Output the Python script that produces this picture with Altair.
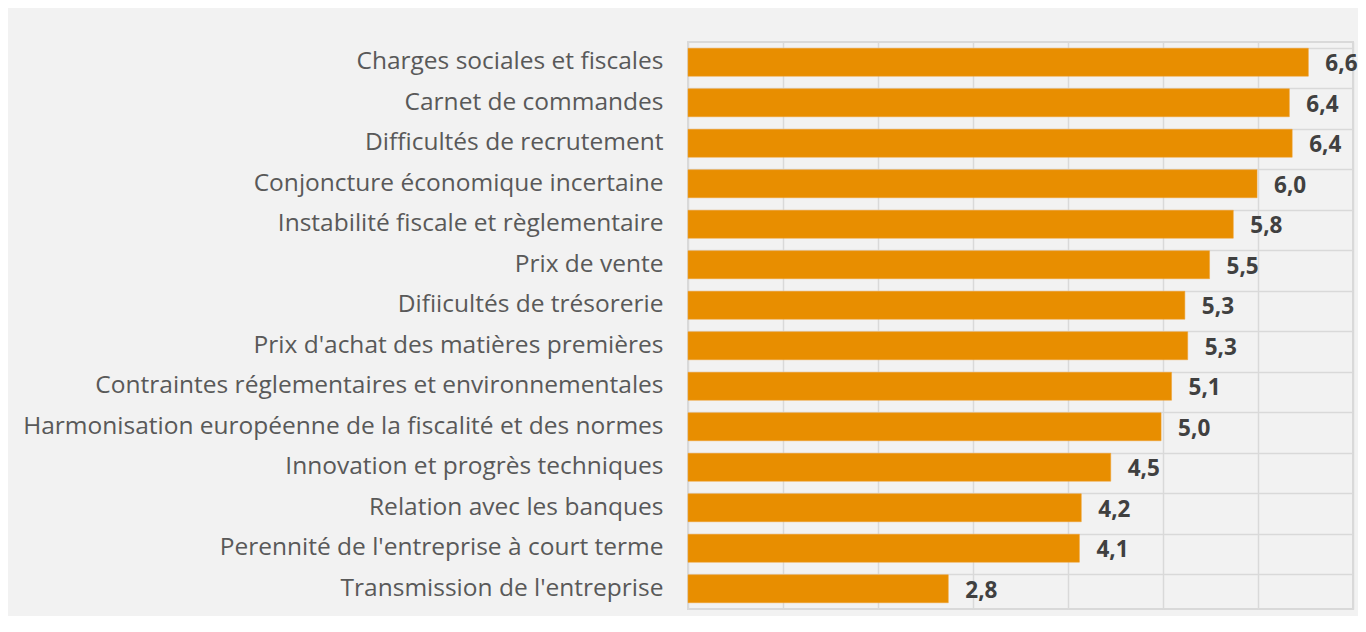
import altair as alt
import pandas as pd

categories = [
    "Charges sociales et fiscales",
    "Carnet de commandes",
    "Difficultés de recrutement",
    "Conjoncture économique incertaine",
    "Instabilité fiscale et règlementaire",
    "Prix de vente",
    "Difiicultés de trésorerie",
    "Prix d'achat des matières premières",
    "Contraintes réglementaires et environnementales",
    "Harmonisation européenne de la fiscalité et des normes",
    "Innovation et progrès techniques",
    "Relation avec les banques",
    "Perennité de l'entreprise à court terme",
    "Transmission de l'entreprise",
]
values = [6.53, 6.33, 6.36, 5.99, 5.74, 5.49, 5.23, 5.26, 5.09, 4.98, 4.45, 4.14, 4.12, 2.74]
labels = ["6,6", "6,4", "6,4", "6,0", "5,8", "5,5", "5,3", "5,3", "5,1", "5,0", "4,5", "4,2", "4,1", "2,8"]
grid_values = [0, 1, 2, 3, 4, 5, 6, 7]

df = pd.DataFrame({"cat": categories, "val": values, "lab": labels})

FONT = "Open Sans"

y = alt.Y(
    "cat:N",
    sort=categories,
    title=None,
    scale=alt.Scale(paddingInner=0.31, paddingOuter=0.155),
    axis=alt.Axis(
        labelFont=FONT,
        labelFontSize=24.5,
        labelColor="#595959",
        labelPadding=25,
        labelLimit=0,
        ticks=False,
        domain=False,
        grid=True,
        gridColor="#d9d9d9",
        gridWidth=1.5,
        bandPosition=0,
    ),
)
x = alt.X(
    "val:Q",
    title=None,
    scale=alt.Scale(domain=[0, 7], nice=False),
    axis=alt.Axis(
        labels=False,
        ticks=False,
        domain=False,
        grid=True,
        gridColor="#d9d9d9",
        gridWidth=1.5,
        values=grid_values,
    ),
)

bars = alt.Chart(df).mark_bar(color="#E88E00", stroke="#F0A030", strokeWidth=0.5).encode(x=x, y=y)
text = alt.Chart(df).mark_text(
    align="left", baseline="middle", dx=17, dy=2,
    font=FONT, fontSize=22.5, fontWeight="bold", color="#404040"
).encode(x=x, y=y, text="lab:N")

chart = (
    (bars + text)
    .properties(
        width=665,
        height=567,
        background="#f2f2f2",
        autosize=alt.AutoSizeParams(type="none"),
        padding={"left": 680, "top": 34, "right": 5, "bottom": 7},
    )
    .configure_view(stroke="#d9d9d9", strokeWidth=2, fill="#f2f2f2")
)

chart.save("out.html", embed_options={"renderer": "svg", "actions": False})
